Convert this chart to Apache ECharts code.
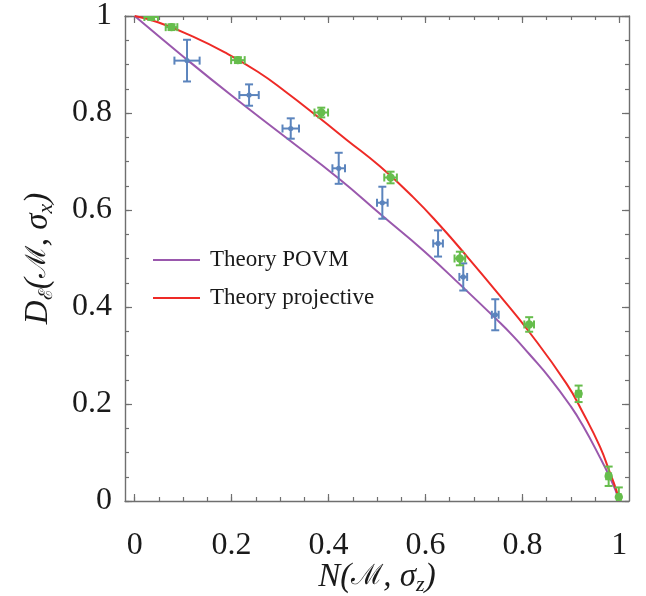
<!DOCTYPE html>
<html>
<head>
<meta charset="utf-8">
<script src="https://cdn.jsdelivr.net/npm/echarts@6/dist/echarts.min.js"></script>
<style>
html,body{margin:0;padding:0;background:#fff;}
#chart{width:646px;height:596px;}
</style>
</head>
<body>
<div id="chart"></div>
<script>
// ---- data ----
const blueX    = [0.108, 0.236, 0.322, 0.421, 0.511, 0.626, 0.678, 0.744];
const blueY    = [0.908, 0.837, 0.768, 0.686, 0.615, 0.531, 0.462, 0.384];
const blueXErr = [0.026, 0.020, 0.017, 0.013, 0.011, 0.010, 0.008, 0.007];
const blueYErr = [0.043, 0.022, 0.021, 0.032, 0.033, 0.027, 0.028, 0.032];

const greenX    = [0.034, 0.076, 0.213, 0.385, 0.528, 0.671, 0.814, 0.916, 0.978, 0.999];
const greenY    = [0.998, 0.977, 0.909, 0.801, 0.667, 0.500, 0.364, 0.221, 0.051, 0.008];
const greenXErr = [0.014, 0.012, 0.014, 0.014, 0.013, 0.011, 0.010, 0.005, 0.005, 0.004];
const greenYErr = [0.006, 0.006, 0.006, 0.010, 0.012, 0.014, 0.015, 0.017, 0.020, 0.020];

const povmX = [0, 0.108, 0.2, 0.31, 0.421, 0.511, 0.595, 0.678, 0.744, 0.781, 0.815, 0.857, 0.9, 0.925, 0.96, 0.98, 0.993, 1];
const povmY = [1, 0.910, 0.836, 0.751, 0.665, 0.588, 0.517, 0.440, 0.377, 0.340, 0.302, 0.253, 0.195, 0.155, 0.090, 0.050, 0.020, 0];

const projX = [0, 0.048, 0.117, 0.186, 0.254, 0.31, 0.382, 0.437, 0.506, 0.574, 0.63, 0.685, 0.753, 0.813, 0.891, 0.925, 0.96, 0.98, 0.993, 1];
const projY = [1, 0.987, 0.959, 0.925, 0.885, 0.845, 0.789, 0.745, 0.690, 0.627, 0.568, 0.505, 0.424, 0.350, 0.242, 0.182, 0.112, 0.060, 0.025, 0];

const majorTicks = [0, 0.2, 0.4, 0.6, 0.8, 1];
const minorTicks = [0, 0.05, 0.1, 0.15, 0.2, 0.25, 0.3, 0.35, 0.4, 0.45, 0.5, 0.55, 0.6, 0.65, 0.7, 0.75, 0.8, 0.85, 0.9, 0.95, 1];
const tickLabels = ['0', '0.2', '0.4', '0.6', '0.8', '1'];

const seriesNames = ['Theory POVM', 'Theory projective'];

// ---- styling ----
const FRAME = '#6f6f6f';
const SERIF = 'Liberation Serif';
const XMIN = -0.02, XMAX = 1.02, YMIN = 0, YMAX = 1;

function labelFmt(v) {
  const i = majorTicks.findIndex(t => Math.abs(t - v) < 1e-9);
  return i >= 0 ? tickLabels[i] : '';
}

function makeAxis(kind, position, major, withLabel) {
  const isX = kind === 'x';
  return {
    type: 'value',
    position: position,
    min: isX ? XMIN : YMIN,
    max: isX ? XMAX : YMAX,
    axisLine: { show: major, onZero: false, lineStyle: { color: FRAME, width: 1.4 } },
    axisTick: {
      show: true, inside: true,
      length: major ? 7 : 4,
      customValues: major ? majorTicks : minorTicks,
      lineStyle: { color: FRAME, width: 1.2 }
    },
    axisLabel: {
      show: withLabel,
      customValues: majorTicks,
      formatter: labelFmt,
      fontFamily: SERIF, fontSize: 32, color: '#1a1a1a',
      margin: isX ? 29 : 13
    },
    splitLine: { show: false }
  };
}

const nameRich = {
  m: { fontFamily: SERIF, fontStyle: 'italic', fontSize: 33, color: '#1a1a1a', lineHeight: 38, verticalAlign: 'middle' },
  s: { fontFamily: SERIF, fontStyle: 'italic', fontSize: 22, color: '#1a1a1a', lineHeight: 20, verticalAlign: 'bottom' },
  c: { fontFamily: 'DejaVu Serif', fontStyle: 'normal', fontSize: 28, color: '#1a1a1a', lineHeight: 38, verticalAlign: 'middle' },
  cs: { fontFamily: 'DejaVu Serif', fontStyle: 'normal', fontSize: 19, color: '#1a1a1a', lineHeight: 18, verticalAlign: 'bottom' }
};

const xAxes = [
  makeAxis('x', 'bottom', true, true),
  makeAxis('x', 'bottom', false, false),
  makeAxis('x', 'top', true, false),
  makeAxis('x', 'top', false, false)
];
xAxes[0].name = '{m|N(}{c|ℳ}{m|, σ}{s|z}{m|)}';
xAxes[0].nameLocation = 'middle';
xAxes[0].nameGap = 57;
xAxes[0].nameMoveOverlap = false;
xAxes[0].nameTextStyle = { rich: nameRich };

const yAxes = [
  makeAxis('y', 'left', true, true),
  makeAxis('y', 'left', false, false),
  makeAxis('y', 'right', true, false),
  makeAxis('y', 'right', false, false)
];
yAxes[0].name = '{m|D}{cs|ℰ}{m|(}{c|ℳ}{m|, σ}{s|x}{m|)}';
yAxes[0].nameLocation = 'middle';
yAxes[0].nameGap = 68;
yAxes[0].nameTextStyle = { rich: nameRich };

function zip(a, b) { return a.map((v, i) => [v, b[i]]); }
function zip4(a, b, c, d) { return a.map((v, i) => [v, b[i], c[i], d[i]]); }

function errRender(color, radius, cap, width) {
  return function (params, api) {
    const x = api.value(0), y = api.value(1), ex = api.value(2), ey = api.value(3);
    const c = api.coord([x, y]);
    const l = api.coord([x - ex, y]);
    const r = api.coord([x + ex, y]);
    const t = api.coord([x, y + ey]);
    const b = api.coord([x, y - ey]);
    const st = { stroke: color, lineWidth: width };
    const line = (x1, y1, x2, y2) => ({ type: 'line', shape: { x1, y1, x2, y2 }, style: st });
    return {
      type: 'group',
      children: [
        line(l[0], c[1], r[0], c[1]),
        line(c[0], t[1], c[0], b[1]),
        line(l[0], c[1] - cap, l[0], c[1] + cap),
        line(r[0], c[1] - cap, r[0], c[1] + cap),
        line(c[0] - cap, t[1], c[0] + cap, t[1]),
        line(c[0] - cap, b[1], c[0] + cap, b[1]),
        { type: 'circle', shape: { cx: c[0], cy: c[1], r: radius }, style: { fill: color } }
      ]
    };
  };
}

const chart = echarts.init(document.getElementById('chart'), null, { renderer: 'canvas' });
chart.setOption({
  animation: false,
  backgroundColor: '#fff',
  grid: { left: 125, right: 17, top: 16, bottom: 95, containLabel: false, outerBoundsMode: 'none' },
  xAxis: xAxes,
  yAxis: yAxes,
  legend: {
    orient: 'vertical',
    left: 148, top: 243,
    itemWidth: 47, itemHeight: 2,
    itemGap: 14,
    icon: 'rect',
    data: seriesNames,
    textStyle: { fontFamily: SERIF, fontSize: 23, color: '#1a1a1a', padding: [0, 0, 0, 5], lineHeight: 24 }
  },
  series: [
    {
      name: seriesNames[0], type: 'line', data: zip(povmX, povmY),
      smooth: 0.5, showSymbol: false, symbol: 'none',
      lineStyle: { color: '#9a58ad', width: 2 }, itemStyle: { color: '#9a58ad' },
      xAxisIndex: 0, yAxisIndex: 0, z: 2
    },
    {
      name: seriesNames[1], type: 'line', data: zip(projX, projY),
      smooth: 0.5, showSymbol: false, symbol: 'none',
      lineStyle: { color: '#ee2a26', width: 2 }, itemStyle: { color: '#ee2a26' },
      xAxisIndex: 0, yAxisIndex: 0, z: 2
    },
    {
      name: 'POVM data', type: 'custom', clip: true,
      data: zip4(blueX, blueY, blueXErr, blueYErr),
      renderItem: errRender('#5b84bd', 2.6, 4, 2),
      encode: { x: 0, y: 1 },
      xAxisIndex: 0, yAxisIndex: 0, z: 3
    },
    {
      name: 'Projective data', type: 'custom', clip: true,
      data: zip4(greenX, greenY, greenXErr, greenYErr),
      renderItem: errRender('#66bd4c', 4.2, 4, 2),
      encode: { x: 0, y: 1 },
      xAxisIndex: 0, yAxisIndex: 0, z: 3
    }
  ]
});
</script>
</body>
</html>
